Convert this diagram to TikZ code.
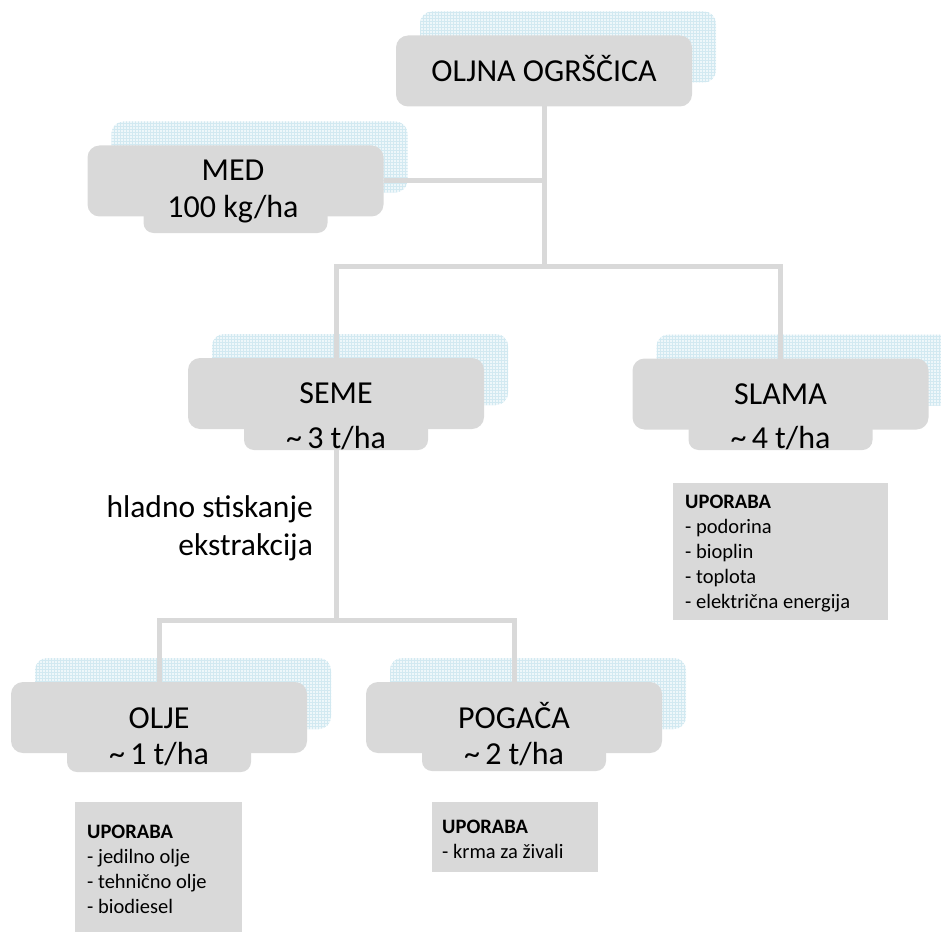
\documentclass[tikz,border=0pt]{standalone}
\usepackage{fontspec}
\setmainfont{Carlito}
\usetikzlibrary{patterns,calc}
\definecolor{boxgray}{RGB}{217,217,217}
\definecolor{shadowbase}{RGB}{238,247,250}
\definecolor{shadowgrid}{RGB}{210,233,241}
\tikzset{
  mainbox/.style={rectangle, rounded corners=12pt, fill=boxgray, minimum width=296pt, minimum height=71pt, inner sep=0pt, outer sep=0pt},
  tabbox/.style={rectangle, rounded corners=10pt, fill=boxgray, minimum width=184pt, minimum height=40pt, inner sep=0pt, outer sep=0pt, anchor=south},
  shadowbox/.style={rectangle, rounded corners=12pt, minimum width=296pt, minimum height=71pt, inner sep=0pt, preaction={fill=shadowbase}, pattern=grid, pattern color=shadowgrid},
  conn/.style={draw=boxgray, line width=5pt, line join=miter},
  lbl/.style={font=\fontsize{32}{38}\selectfont, anchor=base, inner sep=0pt},
  sidelbl/.style={font=\fontsize{31.5}{38}\selectfont, anchor=base east, inner sep=0pt},
  usebox/.style={rectangle, fill=boxgray, anchor=north west, inner sep=0pt, outer sep=0pt},
  usetext/.style={font=\fontsize{20.5}{25}\selectfont, anchor=north west, align=left, inner sep=0pt},
}
\begin{document}
\begin{tikzpicture}[x=1pt,y=-1pt]
\useasboundingbox (0,0) rectangle (941,933);
% shadows
\node[shadowbox] (oljnash) at (568,47) {};
\node[shadowbox] (medsh) at (259.5,157) {};
\node[shadowbox] (semesh) at (360,369.5) {};
\node[shadowbox] (slamash) at (804.5,370) {};
\node[shadowbox] (oljesh) at (183,693.5) {};
\node[shadowbox] (pogacash) at (538,693.5) {};
% main boxes
\node[tabbox] (medtab) at (235.5,233) {};
\node[mainbox] (med) at (235.5,181) {};
\node[mainbox] (oljna) at (544,71) {};
\node[tabbox] (semetab) at (336,450) {};
\node[mainbox] (seme) at (336,393.5) {};
\node[tabbox] (slamatab) at (780.5,450) {};
\node[mainbox] (slama) at (780.5,394) {};
\node[tabbox] (oljetab) at (159,772) {};
\node[mainbox] (olje) at (159,717.5) {};
\node[tabbox] (pogacatab) at (514,771) {};
\node[mainbox] (pogaca) at (514,717.5) {};
% connectors
\coordinate (j1) at ($(oljna.south)+(0,160)$);
\draw[conn] (oljna.south) -- (j1);
\draw[conn] (med.east) -- (med.east -| oljna.south);
\draw[conn] (seme.north) -- (seme.north |- j1) -- (slama.north |- j1) -- (slama.north);
\coordinate (j2) at ($(semetab.south)+(0,170)$);
\draw[conn] (semetab.south) -- (j2);
\draw[conn] (olje.north) -- (olje.north |- j2) -- (pogaca.north |- j2) -- (pogaca.north);
% labels
\node[lbl] (t1) at (544,82) {OLJNA OGRŠČICA};
\node[lbl] (t2) at (233,181) {MED};
\node[lbl] (t3) at (233,218) {100 kg/ha};
\node[lbl] (t4) at (336,403) {SEME};
\node[lbl] (t5) at (336,448) {\char`~\,3 t/ha};
\node[lbl] (t6) at (780.5,404) {SLAMA};
\node[lbl] (t7) at (780.5,448) {\char`~\,4 t/ha};
\node[lbl] (t8) at (159,728) {OLJE};
\node[lbl] (t9) at (159,764) {\char`~\,1 t/ha};
\node[lbl] (t10) at (514,728) {POGAČA};
\node[lbl] (t11) at (514,764) {\char`~\,2 t/ha};
\node[sidelbl] (t12) at (313,517) {hladno stiskanje};
\node[sidelbl] (t13) at (313,555) {ekstrakcija};
% usage boxes
\node[usebox, minimum width=215pt, minimum height=137pt] (slamause) at (673,483) {};
\node[usetext] (slamatext) at ($(slamause.north west)+(12,12)$) {\textbf{UPORABA}\\- podorina\\- bioplin\\- toplota\\- električna energija};
\node[usebox, minimum width=167pt, minimum height=130pt] (oljeuse) at (75,802) {};
\node[usetext] (oljetext) at ($(oljeuse.north west)+(12,23)$) {\textbf{UPORABA}\\- jedilno olje\\- tehnično olje\\- biodiesel};
\node[usebox, minimum width=166pt, minimum height=70pt] (pogacause) at (432,802) {};
\node[usetext] (pogacatext) at ($(pogacause.north west)+(10,18)$) {\textbf{UPORABA}\\- krma za živali};
\end{tikzpicture}
\end{document}
